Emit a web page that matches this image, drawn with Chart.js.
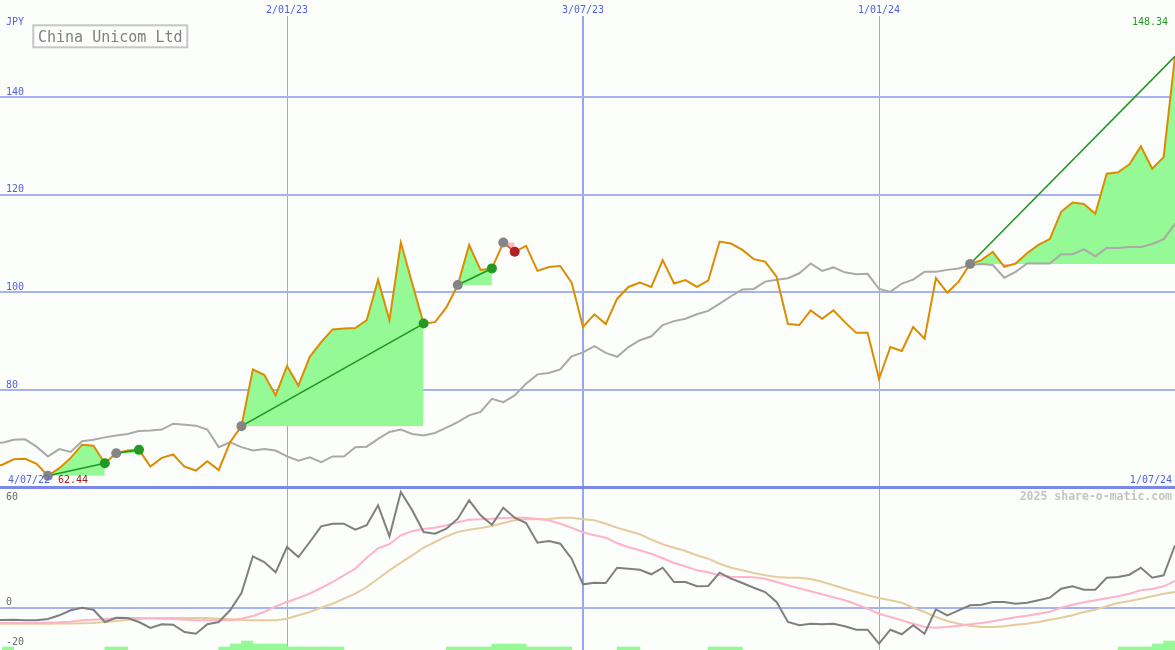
<!DOCTYPE html>
<html>
<head>
<meta charset="utf-8">
<script src="https://cdn.jsdelivr.net/npm/chart.js@4.4.1/dist/chart.umd.min.js"></script>
<style>
body { margin: 0; background: #fcfefc; }
#wrap { position: relative; width: 1175px; height: 650px; }
#price { position: absolute; left: 0; top: 0; }
#osc { position: absolute; left: 0; top: 486px; }
</style>
</head>
<body>
<div id="wrap">
<canvas id="price" width="1175" height="486"></canvas>
<canvas id="osc" width="1175" height="164"></canvas>
</div>
<script>
// weekly closes, week 0 = 4/07/22 ... week 104 = 1/07/24 (JPY)
closePrice = [64.2, 64.7, 65.8, 65.9, 64.9, 62.44, 64.0, 66.1, 68.8, 68.6,
    65.0, 67.05, 67.6, 67.74, 64.3, 66.1, 66.8, 64.3, 63.5, 65.4,
    63.6, 69.3, 72.6, 84.2, 83.1, 78.9, 84.9, 80.9, 86.8, 89.8,
    92.4, 92.6, 92.7, 94.3, 102.6, 94.3, 110.2, 101.8, 93.6, 93.9,
    96.9, 101.5, 109.7, 104.6, 104.9, 110.2, 108.3, 109.5, 104.4, 105.2,
    105.4, 102.0, 92.9, 95.5, 93.5, 98.7, 101.1, 102.0, 101.1, 106.6,
    101.8, 102.5, 101.1, 102.4, 110.4, 110.0, 108.7, 106.8, 106.3, 103.2,
    93.5, 93.3, 96.3, 94.6, 96.3, 93.9, 91.7, 91.7, 82.3, 88.8,
    88.0, 92.9, 90.5, 102.9, 99.9, 102.2, 105.8, 106.6, 108.3, 105.2,
    105.9, 108.0, 109.7, 110.9, 116.5, 118.4, 118.1, 116.1, 124.3, 124.6,
    126.2, 129.9, 125.3, 127.7, 148.34]
// grey comparison line
relPrice = [69.1, 69.2, 69.8, 69.9, 68.4, 66.4, 67.9, 67.3, 69.5, 69.8,
    70.3, 70.7, 71.0, 71.6, 71.7, 71.9, 73.1, 72.9, 72.7, 71.9,
    68.3, 69.3, 68.3, 67.6, 67.9, 67.6, 66.4, 65.5, 66.2, 65.2,
    66.4, 66.4, 68.3, 68.4, 70.0, 71.4, 71.9, 71.0, 70.7, 71.2,
    72.3, 73.4, 74.8, 75.5, 78.2, 77.5, 78.9, 81.3, 83.2, 83.5,
    84.2, 86.9, 87.7, 89.0, 87.6, 86.8, 88.8, 90.2, 91.0, 93.3,
    94.1, 94.6, 95.5, 96.2, 97.7, 99.2, 100.6, 100.7, 102.2, 102.6,
    102.9, 103.9, 105.9, 104.4, 105.1, 104.1, 103.7, 103.8, 100.7, 100.1,
    101.8, 102.6, 104.2, 104.2, 104.6, 104.9, 105.6, 105.8, 105.6, 103.0,
    104.2, 105.9, 105.9, 105.9, 107.8, 107.8, 108.8, 107.4, 109.1, 109.1,
    109.3, 109.3, 109.9, 110.9, 114.0]
// lower panel: oscillator and its two averages
oscLine = [-6.3, -6.25, -6.1, -6.4, -6.4, -5.75, -3.9, -1.4, -0.1, -1.1,
    -7.25, -5.1, -5.25, -7.25, -10.25, -8.4, -8.6, -12.25, -13.1, -8.4,
    -7.25, -1.4, 7.25, 25.6, 22.75, 17.6, 30.25, 25.25, 32.75, 40.6,
    41.9, 41.9, 38.9, 41.1, 51.1, 35.6, 57.75, 48.6, 37.75, 36.9,
    39.4, 44.4, 53.6, 46.1, 41.4, 49.9, 44.9, 42.25, 32.4, 33.25,
    31.9, 24.4, 11.6, 12.4, 12.25, 19.9, 19.4, 18.9, 16.6, 19.9,
    12.75, 12.75, 10.6, 10.75, 17.4, 14.4, 12.25, 9.9, 7.75, 2.75,
    -7.25, -8.9, -8.1, -8.4, -8.1, -9.4, -11.1, -11.1, -18.1, -11.1,
    -13.4, -8.9, -13.1, -0.9, -3.9, -1.4, 1.1, 1.4, 2.75, 2.75,
    1.9, 2.4, 3.6, 4.9, 9.4, 10.6, 8.9, 8.9, 14.9, 15.25,
    16.4, 19.9, 14.9, 16.1, 31.1]
oscFast = [-7.7, -7.7, -7.7, -7.7, -7.7, -7.55, -7.4, -7.1, -6.4, -6.1,
    -5.75, -5.4, -5.25, -5.25, -5.4, -5.6, -5.75, -6.1, -6.4, -6.4,
    -6.4, -6.4, -5.6, -4.25, -2.25, 0.6, 2.75, 4.75, 6.9, 9.75,
    12.75, 16.1, 19.4, 24.9, 29.6, 31.75, 36.1, 38.25, 39.25, 39.9,
    41.1, 42.6, 43.9, 44.1, 44.4, 44.75, 44.9, 44.9, 44.25, 43.6,
    41.9, 39.9, 37.6, 36.1, 34.9, 32.1, 30.1, 28.6, 26.9, 24.6,
    22.25, 20.6, 18.6, 17.6, 16.1, 15.4, 15.25, 15.1, 14.4, 12.75,
    11.1, 9.6, 8.1, 6.6, 5.1, 3.6, 1.6, -0.6, -3.1, -4.75,
    -6.4, -8.1, -9.75, -10.1, -9.75, -9.1, -8.4, -7.75, -6.9, -5.9,
    -4.9, -4.1, -3.1, -2.1, -0.1, 1.4, 2.6, 3.6, 4.6, 5.6,
    6.9, 8.6, 9.25, 10.6, 13.25]
oscSlow = [-8.1, -8.1, -8.1, -8.1, -8.1, -8.1, -8.0, -8.0, -7.9, -7.75,
    -7.25, -6.75, -6.1, -5.75, -5.4, -5.25, -5.25, -5.25, -5.25, -5.25,
    -5.6, -5.9, -6.25, -6.4, -6.4, -6.4, -5.6, -3.9, -2.25, -0.1,
    1.9, 4.4, 6.9, 10.25, 14.4, 18.6, 22.4, 26.1, 29.9, 32.75,
    35.6, 37.75, 38.9, 39.75, 40.75, 42.25, 43.6, 44.1, 44.1, 44.25,
    44.9, 44.9, 44.1, 43.6, 41.9, 39.9, 38.25, 36.6, 33.9, 31.6,
    29.9, 28.25, 26.1, 24.4, 21.9, 19.9, 18.6, 17.25, 16.1, 15.25,
    14.9, 14.9, 14.25, 12.9, 11.1, 9.4, 7.75, 6.1, 4.75, 3.6,
    2.4, -0.1, -2.25, -4.75, -6.75, -8.1, -9.1, -9.75, -9.75, -9.4,
    -8.6, -8.1, -7.25, -6.1, -5.1, -3.9, -2.25, -1.1, 0.6, 2.25,
    3.25, 4.4, 5.6, 6.9, 7.75]
// green blocks along the bottom: week -> level (1..3)
signalWeeks = [1, 10, 11, 20, 21, 22, 23, 24, 25, 26, 27, 28, 29, 30,
    40, 41, 42, 43, 44, 45, 46, 47, 48, 49, 50, 55, 56, 63, 64, 65,
    99, 100, 101, 102, 103]
signalLevel = [1, 1, 1, 1, 2, 3, 2, 2, 2, 1, 1, 1, 1, 1,
    1, 1, 1, 1, 2, 2, 2, 1, 1, 1, 1, 1, 1, 1, 1, 1,
    1, 1, 1, 2, 3]
// marked swings (start week, end week); the last one is still open
swingFrom = [5, 11, 22, 41, 45, 86]
swingTo = [10, 13, 38, 44, 46, 104]

tickWeeks = [26, 52, 78]
tickLabels = ['2/01/23', '3/07/23', '1/01/24']
startLabel = '4/07/22'
endLabel = '1/07/24'
priceTicks = [80, 100, 120, 140]
oscTicks = [-20, 0, 60]

mono = '"DejaVu Sans Mono"'
blue = '#5060e4'
gridBlue = '#a6b3f0'
vGridBlue = '#97a6f2'
bg = '#fcfefc'
xMin = 0.79
xMax = 104
oscMin = -21.25

toPoints = function(arr){
    return arr.map(function(v, i){ return {x: i, y: v} })
}

// swing fills + trend lines
trendSets = []
fillSets = []
swingFrom.forEach(function(s, k){
    e = swingTo[k]
    seg = []
    for (i = s; i <= e; i++) seg.push({x: i, y: closePrice[i]})
    fillSets.push({
        data: seg, borderWidth: 0, pointRadius: 0,
        fill: {target: {value: closePrice[s]}, above: '#95f995', below: '#ffb6c1'}
    })
    gain = closePrice[e] >= closePrice[s]
    open = k == swingFrom.length - 1
    trendSets.push({
        data: [{x: s, y: closePrice[s]}, {x: e, y: closePrice[e]}],
        borderColor: gain ? '#1f961f' : '#d05050',
        borderWidth: gain ? 1.6 : 1,
        pointRadius: [5, open ? 0 : 5],
        pointBorderWidth: 0,
        pointBackgroundColor: ['#858585', gain ? '#229a22' : '#b02222'],
        fill: false
    })
})

priceText = {
    id: 'priceText',
    afterDraw: function(chart){
        c = chart.ctx
        xs = chart.scales.x
        c.save()
        c.textBaseline = 'alphabetic'
        c.font = '10px ' + mono
        c.fillStyle = blue
        c.textAlign = 'left'
        c.fillText('JPY', 6, 25)
        c.fillText(startLabel, 8, 483)
        c.textAlign = 'right'
        c.fillText(endLabel, 1172, 483)
        // lowest close, written beside its dot
        lo = closePrice.indexOf(Math.min.apply(null, closePrice))
        c.textAlign = 'left'
        c.fillStyle = '#a81c1c'
        c.fillText(closePrice[lo].toFixed(2), xs.getPixelForValue(lo) + 10, 483)
        // last close top right
        c.textAlign = 'right'
        c.fillStyle = '#229a22'
        c.fillText(closePrice[closePrice.length - 1].toFixed(2), 1168, 25)
        // name box
        c.fillStyle = bg
        c.fillRect(33, 25, 155, 23)
        c.strokeStyle = '#c6c6c6'
        c.lineWidth = 2
        c.strokeRect(33.3, 25.3, 154, 22)
        c.font = '15px ' + mono
        c.fillStyle = '#808080'
        c.textAlign = 'left'
        c.fillText('China Unicom Ltd', 38, 42)
        c.restore()
    }
}

oscText = {
    id: 'oscText',
    afterDraw: function(chart){
        c = chart.ctx
        c.save()
        c.font = 'bold 11.5px ' + mono
        c.fillStyle = '#c4c4c4'
        c.textAlign = 'right'
        c.textBaseline = 'alphabetic'
        c.fillText('2025 share-o-matic.com', 1172, 14)
        c.restore()
    }
}

noPad = function(s){
    s.paddingTop = 0; s.paddingBottom = 0; s.paddingLeft = 0; s.paddingRight = 0
}

// mid-year line is drawn a bit heavier than the January ones
vLineWidth = function(ctx){ return ctx.tick && ctx.tick.value == 52 ? 2 : 1 }

priceChart = new Chart(document.getElementById('price'), {
    type: 'line',
    data: {
        datasets: trendSets.concat([
            {data: toPoints(closePrice), borderColor: '#dc8c00', borderWidth: 2, pointRadius: 0, fill: false},
            {data: toPoints(relPrice), borderColor: '#a9a9a9', borderWidth: 2, pointRadius: 0, fill: false}
        ], fillSets)
    },
    options: {
        responsive: false, animation: false, devicePixelRatio: 1,
        layout: {padding: 0, autoPadding: false},
        elements: {line: {tension: 0}},
        plugins: {legend: {display: false}, tooltip: {enabled: false}},
        scales: {
            x: {
                type: 'linear', position: 'top', min: xMin, max: xMax,
                afterBuildTicks: function(s){ s.ticks = tickWeeks.map(function(v){ return {value: v} }) },
                afterFit: function(s){ s.height = 16; noPad(s) },
                ticks: {
                    callback: function(v, i){ return tickLabels[i] },
                    color: blue, font: {family: mono, size: 10}, padding: 0,
                    autoSkip: false, maxRotation: 0
                },
                grid: {drawTicks: false, offset: false, color: vGridBlue, lineWidth: vLineWidth},
                border: {display: false}
            },
            y: {
                min: 60.34, max: 156.59,
                afterBuildTicks: function(s){ s.ticks = priceTicks.map(function(v){ return {value: v} }) },
                afterFit: function(s){ s.width = 0; noPad(s) },
                ticks: {mirror: true, padding: 6, labelOffset: -5, color: blue, font: {family: mono, size: 10}},
                grid: {drawTicks: false, color: gridBlue, lineWidth: 2},
                border: {display: false}
            }
        }
    },
    plugins: [priceText]
})

signalBars = signalWeeks.map(function(w, i){
    return {x: w + 0.5, y: [oscMin, oscMin + signalLevel[i] * 1.5]}
})

oscChart = new Chart(document.getElementById('osc'), {
    type: 'line',
    data: {
        datasets: [
            {data: toPoints(oscLine), borderColor: '#7f7f7f', borderWidth: 2, pointRadius: 0},
            {data: toPoints(oscFast), borderColor: '#ffb3c6', borderWidth: 2, pointRadius: 0},
            {data: toPoints(oscSlow), borderColor: '#e6cc9c', borderWidth: 2, pointRadius: 0},
            {type: 'bar', data: signalBars, backgroundColor: '#95f995', borderWidth: 0,
             barPercentage: 1, categoryPercentage: 1}
        ]
    },
    options: {
        responsive: false, animation: false, devicePixelRatio: 1,
        layout: {padding: 0, autoPadding: false},
        elements: {line: {tension: 0}},
        plugins: {legend: {display: false}, tooltip: {enabled: false}},
        scales: {
            x: {
                type: 'linear', position: 'bottom', min: xMin, max: xMax, offset: false,
                afterBuildTicks: function(s){ s.ticks = tickWeeks.map(function(v){ return {value: v} }) },
                afterFit: function(s){ s.height = 0; noPad(s) },
                ticks: {display: false},
                grid: {drawTicks: false, offset: false, color: vGridBlue, lineWidth: vLineWidth},
                border: {display: false}
            },
            y: {
                min: oscMin, max: 60.75,
                afterBuildTicks: function(s){ s.ticks = oscTicks.map(function(v){ return {value: v} }) },
                afterFit: function(s){ s.width = 0; noPad(s) },
                ticks: {
                    mirror: true, padding: 6, labelOffset: -5, color: '#6a6a6a',
                    font: {family: mono, size: 10, lineHeight: 1.5},
                    callback: function(v){ return v == 60 ? ['', '', '60'] : String(v) }
                },
                grid: {
                    drawTicks: false,
                    color: function(ctx){
                        if (!ctx.tick) return gridBlue
                        if (ctx.tick.value == -20) return 'rgba(0,0,0,0)'
                        return ctx.tick.value == 60 ? '#7b88ea' : gridBlue
                    },
                    lineWidth: function(ctx){ return ctx.tick && ctx.tick.value == 60 ? 3 : 2 }
                },
                border: {display: false}
            }
        }
    },
    plugins: [oscText]
})
</script>
</body>
</html>
